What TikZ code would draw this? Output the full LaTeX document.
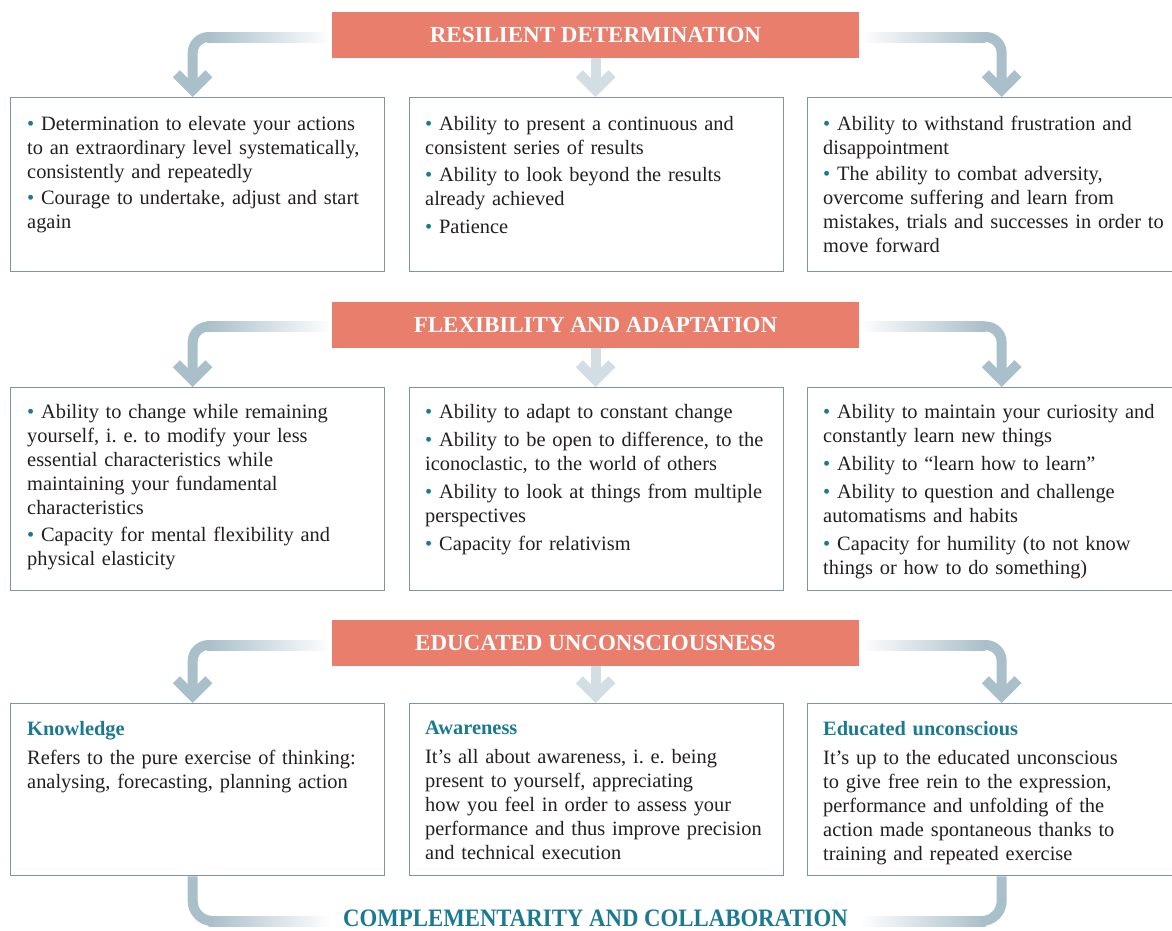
\documentclass[tikz,border=0pt]{standalone}
\usepackage{fontspec}
\usepackage{graphicx}
\setmainfont{Liberation Serif}
\usetikzlibrary{calc}
\frenchspacing
\definecolor{titlered}{HTML}{E97E6D}
\definecolor{arrdark}{HTML}{A9BFCA}
\definecolor{arrlight}{HTML}{D3DEE4}
\definecolor{boxline}{HTML}{7B95A3}
\definecolor{tealc}{HTML}{1B7A92}
\definecolor{ink}{HTML}{231F20}
\newcommand{\mybul}{{\color{tealc}\textbullet}\ }
\newcommand{\myhead}[1]{{\bfseries\color{tealc}#1}}
\tikzset{
  titlebar/.style={fill=titlered, text=white, font=\bfseries\fontsize{23}{26}\selectfont,
    minimum width=527pt, minimum height=46pt, inner sep=0pt},
  box/.style={draw=boxline, line width=1.3pt, minimum width=374pt, anchor=north west, inner sep=0pt},
  txt/.style={anchor=north west, inner sep=0pt, text width=400pt, align=left,
    font=\fontsize{20.4}{24}\selectfont\frenchspacing, text=ink},
  conn/.style={line width=10pt, draw=arrdark},
  connlight/.style={line width=10pt, draw=arrlight},
  chev/.pic={\draw[line width=10pt, line join=miter, miter limit=10]
    (-16.3,-23.3) -- (0,-7) -- (16.3,-23.3);},
  botlabel/.style={font=\bfseries\fontsize{22.8}{26}\selectfont, text=tealc, inner sep=0pt,
    text depth=0pt, anchor=base}
}
\begin{document}
\begin{tikzpicture}[x=1pt,y=-1pt]
\useasboundingbox (0,0) rectangle (1172,930);
\clip (0,0) rectangle (1172,930);

% ---------- title bars ----------
\node[titlebar] (t1) at (595.5,35) {RESILIENT DETERMINATION};
\node[titlebar] (t2) at (595.5,324.5) {FLEXIBILITY AND ADAPTATION};
\node[titlebar] (t3) at (595.5,643) {EDUCATED UNCONSCIOUSNESS};

% ---------- boxes ----------
\node[box, minimum height=174pt] (b11) at (10,97) {};
\node[box, minimum height=174pt] (b12) at (409,97) {};
\node[box, minimum height=174pt] (b13) at (807,97) {};
\node[box, minimum height=203pt] (b21) at (10,387) {};
\node[box, minimum height=203pt] (b22) at (409,387) {};
\node[box, minimum height=203pt] (b23) at (807,387) {};
\node[box, minimum height=172pt] (b31) at (10,703) {};
\node[box, minimum height=172pt] (b32) at (409,703) {};
\node[box, minimum height=172pt] (b33) at (807,703) {};

% ---------- texts ----------
\node[txt] (x11) at (27,116) {\mybul Determination to elevate your actions\\
to an extraordinary level systematically,\\
consistently and repeatedly\\[2pt]
\mybul Courage to undertake, adjust and start\\
again};
\node[txt] (x12) at (425,116) {\mybul Ability to present a continuous and\\
consistent series of results\\[3pt]
\mybul Ability to look beyond the results\\
already achieved\\[4pt]
\mybul Patience};
\node[txt] (x13) at (823,116) {\mybul Ability to withstand frustration and\\
disappointment\\[2pt]
\mybul The ability to combat adversity,\\
overcome suffering and learn from\\
mistakes, trials and successes in order to\\
move forward};

\node[txt] (x21) at (27,404) {\mybul Ability to change while remaining\\
yourself, i. e. to modify your less\\
essential characteristics while\\
maintaining your fundamental\\
characteristics\\[3pt]
\mybul Capacity for mental flexibility and\\
physical elasticity};
\node[txt] (x22) at (425,404) {\mybul Ability to adapt to constant change\\[4pt]
\mybul Ability to be open to difference, to the\\
iconoclastic, to the world of others\\[4pt]
\mybul Ability to look at things from multiple\\
perspectives\\[4pt]
\mybul Capacity for relativism};
\node[txt] (x23) at (823,404) {\mybul Ability to maintain your curiosity and\\
constantly learn new things\\[4pt]
\mybul Ability to \textquotedblleft learn how to learn\textquotedblright\\[4pt]
\mybul Ability to question and challenge\\
automatisms and habits\\[4pt]
\mybul Capacity for humility (to not know\\
things or how to do something)};

\node[txt] (x31) at (27,721) {\myhead{Knowledge}\\[5pt]
Refers to the pure exercise of thinking:\\
analysing, forecasting, planning action};
\node[txt] (x32) at (425,721) {\myhead{Awareness}\\[5pt]
It’s all about awareness, i. e. being\\
present to yourself, appreciating\\
how you feel in order to assess your\\
performance and thus improve precision\\
and technical execution};
\node[txt] (x33) at (823,721) {\myhead{Educated unconscious}\\[5pt]
It’s up to the educated unconscious\\
to give free rein to the expression,\\
performance and unfolding of the\\
action made spontaneous thanks to\\
training and repeated exercise};

% ---------- connectors from the title bars ----------
\foreach \r in {1,2,3}{
  \coordinate (hl\r) at ($(b\r1.north)+(-5,0)$);
  \coordinate (hm\r) at ($(b\r2.north)+(-1,0)$);
  \coordinate (hr\r) at ($(b\r3.north)+(7,0)$);
  \coordinate (yl\r) at ($(t\r.west)+(0,2)$);
  \coordinate (yr\r) at ($(t\r.east)+(0,2)$);
  % left
  \shade[left color=arrdark, right color=white]
    ($(yl\r)+(-125,-5)$) rectangle ($(yl\r)+(0,5)$);
  \draw[conn, rounded corners=16pt] ($(yl\r)+(-124,0)$) -| ($(hl\r)+(0,-7)$);
  \pic[color=arrdark] at (hl\r) {chev};
  % middle
  \draw[connlight] (t\r.south -| hm\r) -- ($(hm\r)+(0,-7)$);
  \pic[color=arrlight] at (hm\r) {chev};
  % right
  \shade[left color=white, right color=arrdark]
    ($(yr\r)+(0,-5)$) rectangle ($(yr\r)+(126,5)$);
  \draw[conn, rounded corners=16pt] ($(yr\r)+(125,0)$) -| ($(hr\r)+(0,-7)$);
  \pic[color=arrdark] at (hr\r) {chev};
}

% ---------- bottom connector ----------
\node[botlabel] (lab) at (595.5,926) {\scalebox{1}[1.1]{COMPLEMENTARITY AND COLLABORATION}};
\coordinate (bl) at ($(b31.south)+(-5,0)$);
\coordinate (br) at ($(b33.south)+(7,0)$);
\coordinate (ly) at (0,921);
\shade[left color=arrdark, right color=white]
  ($(bl |- ly)+(16,-5)$) rectangle ($(lab.west |- ly)+(-12,5)$);
\draw[conn, rounded corners=20pt] (bl) |- ($(bl |- ly)+(17,0)$);
\shade[left color=white, right color=arrdark]
  ($(lab.east |- ly)+(12,-5)$) rectangle ($(br |- ly)+(-16,5)$);
\draw[conn, rounded corners=20pt] (br) |- ($(br |- ly)+(-17,0)$);
\end{tikzpicture}
\end{document}
